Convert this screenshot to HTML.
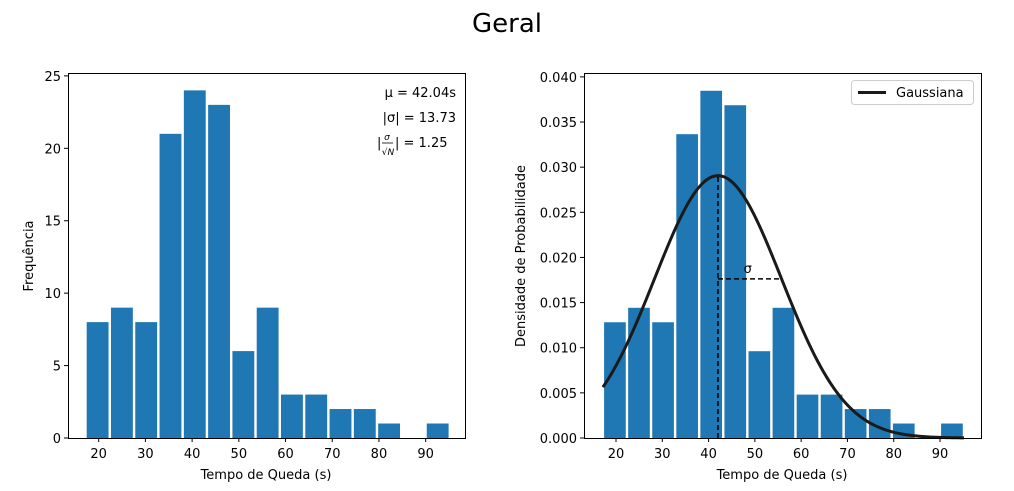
<!DOCTYPE html>
<html><head><meta charset="utf-8"><style>
body{margin:0;background:#fff;font-family:"DejaVu Sans","Liberation Sans",sans-serif}
svg text{font-family:"DejaVu Sans","Liberation Sans",sans-serif;fill:#000}
</style></head><body>
<svg id="c" width="1014" height="487" xmlns="http://www.w3.org/2000/svg">
<text x="507" y="32" font-size="26" text-anchor="middle">Geral</text>
</svg>
<script>
const counts=[8,9,8,21,24,23,6,9,3,3,2,2,1,0,1];
const binStart=17.17, binWidth=5.2;
const mu=42.04, sigma=13.73;
const xTicks=[20,30,40,50,60,70,80,90];
const yTicksL=[0,5,10,15,20,25];
const yTicksR=[0,0.005,0.010,0.015,0.020,0.025,0.030,0.035,0.040];
const N=counts.reduce((a,b)=>a+b,0);
const svg=document.getElementById('c');
const NS='http://www.w3.org/2000/svg';
function el(t,a,p){const e=document.createElementNS(NS,t);for(const k in a)e.setAttribute(k,a[k]);(p||svg).appendChild(e);return e;}
function panel(x0,x1,y0,y1,xmin,xmax,ymin,ymax,yt,yfmt,name){
  const g=el('g',{});
  
  
  const sx=v=>x0+(v-xmin)/(xmax-xmin)*(x1-x0);
  const sy=v=>y1-(v-ymin)/(ymax-ymin)*(y1-y0);
  xTicks.forEach(t=>{const X=sx(t);el('line',{x1:X,x2:X,y1:y1,y2:y1+4,stroke:'#000'},g);
    const tx=el('text',{x:X,y:y1+20,'font-size':13,'text-anchor':'middle'},g);tx.textContent=t;
    });
  yt.forEach(t=>{const Y=sy(t);el('line',{x1:x0-4,x2:x0,y1:Y,y2:Y,stroke:'#000'},g);
    const tx=el('text',{x:x0-7,y:Y+5,'font-size':13,'text-anchor':'end'},g);tx.textContent=yfmt(t);
    });
  return {g,sx,sy};
}
const L=panel(68,465,73,438,13.43,98.42,0,25.2,yTicksL,v=>v,'histogram-frequency');
counts.forEach((c,i)=>{const a=binStart+i*binWidth+0.05*binWidth,b=a+0.9*binWidth;
  const r=el('rect',{x:L.sx(a),y:L.sy(c),width:L.sx(b)-L.sx(a),height:L.sy(0)-L.sy(c),fill:'#1f77b4'},L.g);
  });
el('rect',{x:68.5,y:73.5,width:397,height:365,fill:'none',stroke:'#000'},L.g);
const peak=1/(sigma*Math.sqrt(2*Math.PI));
const R=panel(584,981,73,438,13.09,98.85,0,0.04043,yTicksR,v=>v.toFixed(3),'histogram-density');
counts.forEach((c,i)=>{const a=binStart+i*binWidth+0.05*binWidth,b=a+0.9*binWidth,d=c/(N*binWidth);
  const r=el('rect',{x:R.sx(a),y:R.sy(d),width:R.sx(b)-R.sx(a),height:R.sy(0)-R.sy(d),fill:'#1f77b4'},R.g);
  });
let pts=[];for(let i=0;i<=200;i++){const x=binStart+i*(15*binWidth)/200;pts.push(R.sx(x)+','+R.sy(peak*Math.exp(-0.5*((x-mu)/sigma)**2)));}
const gl=el('polyline',{points:pts.join(' '),fill:'none',stroke:'#1a1a1a','stroke-width':3},R.g);

el('line',{x1:R.sx(mu),x2:R.sx(mu),y1:R.sy(0),y2:R.sy(peak),stroke:'#000','stroke-width':1.5,'stroke-dasharray':'5,3'},R.g);
const hy=R.sy(peak*Math.exp(-0.5));
el('line',{x1:R.sx(mu),x2:R.sx(mu+sigma),y1:hy,y2:hy,stroke:'#000','stroke-width':1.5,'stroke-dasharray':'5,3'},R.g);
const st=el('text',{x:R.sx(mu+sigma/2)-2,y:hy-6,'font-size':13,'text-anchor':'middle'},R.g);st.textContent='σ';
el('rect',{x:584.5,y:73.5,width:397,height:365,fill:'none',stroke:'#000'},R.g);
</script>
<svg style="position:absolute;left:0;top:0" width="1014" height="487" xmlns="http://www.w3.org/2000/svg">
<text x="456" y="97" font-size="13" text-anchor="end">μ = 42.04s</text>
<text x="456" y="122" font-size="13" text-anchor="end">|σ| = 13.73</text>
<g>
<text x="377" y="147" font-size="13">|</text>
<text x="387" y="140" font-size="9" font-style="italic" text-anchor="middle">σ</text>
<line x1="382" x2="393" y1="143" y2="143" stroke="#000" stroke-width="0.8"/>
<text x="388" y="155" font-size="9" font-style="italic" text-anchor="middle">√N</text>
<text x="395" y="147" font-size="13">| = 1.25</text>
</g>
<text x="266" y="479" font-size="13" text-anchor="middle">Tempo de Queda (s)</text>
<text x="782" y="479" font-size="13" text-anchor="middle">Tempo de Queda (s)</text>
<text transform="translate(33,256) rotate(-90)" font-size="13" text-anchor="middle">Frequência</text>
<text transform="translate(525,256) rotate(-90)" font-size="13" text-anchor="middle">Densidade de Probabilidade</text>
<g>
<rect x="851.5" y="80.5" width="122" height="24" rx="3" fill="#fff" stroke="#ccc"/>
<line x1="858" x2="886" y1="92.5" y2="92.5" stroke="#1a1a1a" stroke-width="3"/>
<text x="896" y="97" font-size="13">Gaussiana</text>
</g>
</svg>
</body></html>
